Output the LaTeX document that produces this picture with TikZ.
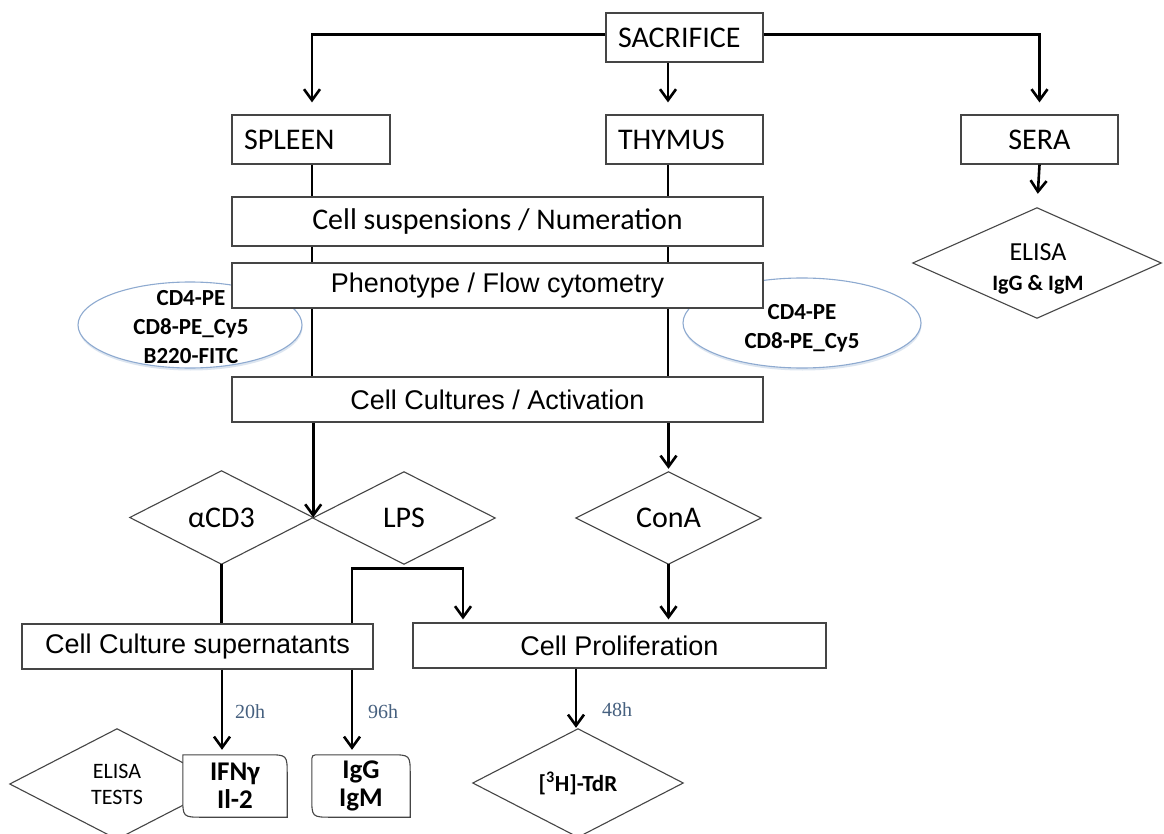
\documentclass[tikz,border=0pt]{standalone}
\usepackage{fontspec}
\setmainfont{Carlito}
\newfontfamily\arialf{Liberation Sans}
\newfontfamily\serifh{Liberation Serif}
\usetikzlibrary{arrows.meta,shapes.geometric,calc,shadows}
\definecolor{bordergray}{HTML}{454545}
\definecolor{ellblue}{HTML}{8EAAD0}
\definecolor{hourblue}{HTML}{46607F}
\begin{document}
\begin{tikzpicture}[x=1pt,y=-1pt,
  box/.style={draw=bordergray, line width=1.2pt, fill=white, rectangle, inner sep=0pt,
              minimum height=49pt, font=\fontsize{30}{36}\selectfont},
  lbox/.style={box, text width=#1, align=left, inner xsep=12pt},
  wide/.style={box, minimum height=45pt, font=\arialf\fontsize{27}{32}\selectfont},
  dia/.style={rectangle, inner sep=0pt, align=center, font=\fontsize{30}{36}\selectfont},
  dline/.style={draw=bordergray, line width=1.1pt},
  ell/.style={ellipse, draw=ellblue, line width=1.1pt, fill=white, inner sep=0pt,
              drop shadow={shadow xshift=0.5pt,shadow yshift=-2.5pt,opacity=0.3,fill=ellblue}},
  etext/.style={font=\bfseries\fontsize{23}{29}\selectfont, align=center, inner sep=0pt},
  conn/.style={line width=2.6pt, black},
  arr/.style={conn, -{Straight Barb[length=11pt,width=16pt]}},
  hour/.style={font=\serifh\fontsize{20}{24}\selectfont, text=hourblue, inner sep=0pt},
]
\useasboundingbox (0,0) rectangle (1164,834);
\fill[white] (0,0) rectangle (1164,834);

% column coordinates
\coordinate (cL) at (312,0);
\coordinate (cM) at (668,0);
\coordinate (cI) at (352,0);
\coordinate (cP) at (463,0);
\coordinate (cT) at (576,0);
\coordinate (cS) at (222,0);

% ellipses (behind boxes)
\node[ell, minimum width=224pt, minimum height=86pt] (e1) at (190,325) {};
\node[etext] (e1t) at (191,327) {CD4-PE\\CD8-PE\_Cy5\\B220-FITC};
\node[ell, minimum width=238pt, minimum height=90pt] (e2) at (802,323) {};
\node[etext] (e2t) at (802,328) {CD4-PE\\CD8-PE\_Cy5};

% top boxes
\node[lbox=133pt] (sac) at (684.5,37.5) {SACRIFICE};
\node[lbox=133pt] (thy) at (684.5,139.5) {THYMUS};
\node[lbox=134pt] (spl) at (311,139.5) {SPLEEN};
\node[box, minimum width=157pt] (sera) at (1039.5,139.5) {SERA};

% ELISA diamond (sera)
\node[dia, minimum width=248pt, minimum height=110pt] (el1) at (1037,263) {};
\draw[dline] (el1.north) -- (el1.east) -- (el1.south) -- (el1.west) -- cycle;
\node[dia, font=\fontsize{26}{30}\selectfont] (el1t) at (1038,269)
  {ELISA\\\fontsize{22}{30}\selectfont\bfseries IgG \& IgM};

% wide boxes
\node[box, minimum width=531pt] (cs) at (497.5,221.5) {Cell suspensions / Numeration};
\node[wide, minimum width=531pt] (ph) at (497.5,285.5) {Phenotype / Flow cytometry};
\node[wide, minimum width=531pt] (cc) at (497.5,399.5) {Cell Cultures / Activation};

% stimulation diamonds
\node[dia, minimum width=183pt, minimum height=93pt] (acd3) at (221.5,517.5) {αCD3};
\draw[dline] (acd3.north) -- (acd3.east) -- (acd3.south) -- (acd3.west) -- cycle;
\node[dia, minimum width=182pt, minimum height=92pt] (lps) at (404,518) {LPS};
\draw[dline] (lps.north) -- (lps.east) -- (lps.south) -- (lps.west) -- cycle;
\node[dia, minimum width=185pt, minimum height=92pt] (cona) at (668.5,518) {ConA};
\draw[dline] (cona.north) -- (cona.east) -- (cona.south) -- (cona.west) -- cycle;

% lower boxes
\node[wide, minimum width=351pt] (sup) at (197.5,646.5) {Cell Culture supernatants};
\node[wide, minimum width=413pt] (prol) at (619.5,645.5) {Cell Proliferation};

% bottom row
\node[dia, minimum width=214pt, minimum height=110pt, font=\fontsize{22}{26}\selectfont] (elt) at (117,784) {ELISA\\TESTS};
\draw[dline] (elt.north) -- (elt.east) -- (elt.south) -- (elt.west) -- cycle;

\node[rectangle, inner sep=0pt, minimum width=104pt, minimum height=62pt] (ifng) at (235,786) {};
\draw[dline, fill=white] (ifng.north west) -- ($(ifng.north east)+(-20,0)$)
  .. controls (ifng.north east) .. ($(ifng.north east)+(0,20)$) -- (ifng.south east)
  -- ($(ifng.south west)+(20,0)$) .. controls (ifng.south west) .. ($(ifng.south west)+(0,-20)$) -- cycle;
\node[etext, font=\bfseries\fontsize{27}{28}\selectfont] (ifngt) at (ifng.center) {IFNγ\\Il-2};

\node[rectangle, inner sep=0pt, minimum width=98pt, minimum height=62pt] (igg) at (361,786) {};
\draw[dline, fill=white] ($(igg.north west)+(8,0)$) -- ($(igg.north east)+(-20,0)$)
  .. controls (igg.north east) .. ($(igg.north east)+(0,20)$) -- (igg.south east)
  -- ($(igg.south west)+(20,0)$) .. controls (igg.south west) .. ($(igg.south west)+(0,-20)$)
  -- ($(igg.north west)+(0,8)$) .. controls (igg.north west) .. cycle;
\node[etext, font=\bfseries\fontsize{27}{28}\selectfont] (iggt) at (igg.center) {IgG\\IgM};

\node[dia, minimum width=210pt, minimum height=108pt, font=\bfseries\fontsize{23}{28}\selectfont] (tdr) at (578,783) {[\textsuperscript{3}H]-TdR};
\draw[dline] (tdr.north) -- (tdr.east) -- (tdr.south) -- (tdr.west) -- cycle;

% connectors
\draw[arr, shorten >=12pt] ($(sac.west)+(0,-3)$) -| (spl.north -| cL);
\draw[arr, shorten >=12pt] ($(sac.east)+(0,-3)$) -| (sera.north);
\draw[arr, shorten >=12pt] (sac.south -| cM) -- (thy.north -| cM);
\draw[arr, shorten >=14pt] (sera.south) -- (el1.north);
\draw[conn] (spl.south -| cL) -- (cs.north -| cL);
\draw[conn] (thy.south -| cM) -- (cs.north -| cM);
\draw[conn] (cs.south -| cL) -- (ph.north -| cL);
\draw[conn] (cs.south -| cM) -- (ph.north -| cM);
\draw[conn] (ph.south -| cL) -- (cc.north -| cL);
\draw[conn] (ph.south -| cM) -- (cc.north -| cM);
\draw[arr] (cc.south -| acd3.east) -- (acd3.east);
\draw[arr, shorten >=3pt] (cc.south -| cona.north) -- (cona.north);
\draw[conn] (acd3.south) -- (sup.north -| acd3.south);
\coordinate (lj) at ($(lps.south)+(0,4)$);
\draw[conn] (sup.north -| cI) |- (lj);
\draw[arr, shorten >=3pt] (lj) -| (prol.north -| cP);
\draw[arr, shorten >=5pt] (sup.south -| cS) -- (ifng.north -| cS);
\draw[arr, shorten >=5pt] (sup.south -| cI) -- (igg.north -| cI);
\draw[arr, shorten >=3pt] (cona.south) -- (prol.north -| cona.south);
\draw[arr, shorten >=1pt] (prol.south -| cT) -- (tdr.north -| cT);

% durations
\node[hour] (h20) at (250,712) {20h};
\node[hour] (h96) at (383,712) {96h};
\node[hour] (h48) at (617,710) {48h};
\end{tikzpicture}
\end{document}
